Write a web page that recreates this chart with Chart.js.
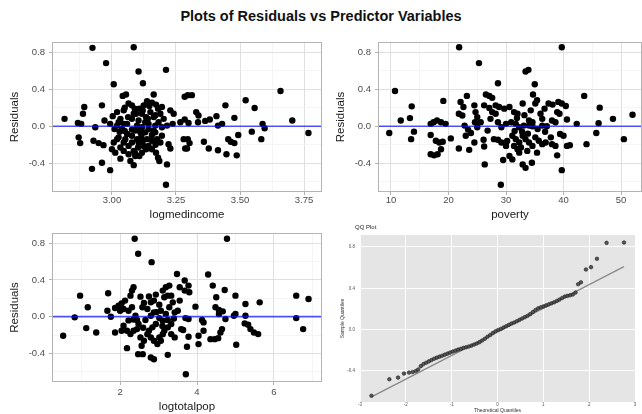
<!DOCTYPE html>
<html><head><meta charset="utf-8">
<script src="https://cdn.jsdelivr.net/npm/chart.js@4/dist/chart.umd.min.js"></script>
<style>
html,body{margin:0;padding:0;background:#fff;width:642px;height:414px;overflow:hidden;font-family:"Liberation Sans",Arial,Helvetica,sans-serif}
canvas{position:absolute;display:block}
#title{position:absolute;left:0;top:8px;width:642px;text-align:center;font-weight:bold;font-size:14.5px;line-height:16px;color:#111}
#qqtitle{position:absolute;left:355px;top:224px;font-size:6px;line-height:7px;color:#222}
</style></head><body>
<div id="title">Plots of Residuals vs Predictor Variables</div>
<canvas id="c1" width="330" height="195" style="left:0;top:30px"></canvas>
<canvas id="c2" width="316" height="195" style="left:326px;top:30px"></canvas>
<canvas id="c3" width="330" height="193" style="left:0;top:221px"></canvas>
<canvas id="c4" width="302" height="192" style="left:340px;top:222px"></canvas>
<div id="qqtitle">QQ Plot</div>
<script>
// ---------- data ----------
const incomeX = [
 2.924,3.085,2.977,3.104,3.211,3.007,3.121,3.163,3.042,3.055,
 2.892,2.961,2.887,2.815,2.867,2.880,2.935,2.971,2.870,2.876,
 2.928,2.948,2.967,2.922,2.961,2.993,3.085,3.033,3.211,3.215,
 3.065,3.078,3.046,3.020,3.003,3.026,3.010,3.039,3.059,3.078,
 3.094,3.107,3.124,3.137,3.146,3.156,3.172,3.180,3.117,3.133,
 3.104,3.150,3.163,3.189,3.098,3.117,3.143,3.169,3.195,3.078,
 3.059,3.026,3.007,3.020,3.046,3.065,3.078,3.098,3.115,3.130,
 3.156,3.176,3.195,3.046,3.065,3.085,3.102,3.117,3.091,3.143,
 3.156,3.172,3.180,3.185,3.228,3.221,3.202,3.215,3.228,3.241,
 3.237,3.267,3.284,3.280,3.286,3.284,3.000,3.013,3.072,3.033,
 3.182,3.089,3.063,3.111,3.137,3.163,3.189,3.052,3.104,3.124,
 3.156,3.078,3.020,3.091,3.143,3.169,2.993,3.046,3.195,3.130,
 3.085,3.107,3.133,3.033,3.296,3.312,3.299,3.329,3.338,3.336,
 3.364,3.382,3.408,3.414,3.430,3.443,3.478,3.522,3.557,3.588,
 3.596,3.546,3.583,3.493,3.454,3.464,3.478,3.359,3.378,3.414,
 3.447,3.487,3.296,3.303,3.293,3.658,3.704,3.767,3.050,3.120,
 3.170,3.100,3.050,3.120,3.170,3.090,3.030,3.140
];
const incomeRes = [
 0.847,0.854,0.682,0.591,0.609,0.453,0.464,0.343,0.328,0.343,
 0.208,0.226,0.135,0.080,0.036,0.026,-0.011,0.062,-0.120,-0.182,
 -0.157,-0.182,-0.204,-0.460,-0.394,-0.474,-0.420,-0.350,-0.631,-0.412,
 0.245,0.226,0.172,0.153,0.109,0.044,-0.029,-0.029,0.026,0.080,
 0.135,0.190,0.226,0.270,0.219,0.255,0.234,0.190,0.135,0.099,
 0.062,0.153,0.099,0.135,0.007,-0.011,0.026,0.007,-0.011,-0.036,
 -0.084,-0.120,-0.175,-0.139,-0.175,-0.212,-0.175,-0.139,-0.102,-0.066,
 -0.095,-0.139,-0.102,-0.266,-0.303,-0.266,-0.230,-0.285,-0.321,-0.212,
 -0.157,-0.285,-0.339,-0.376,-0.241,-0.193,0.080,0.007,0.172,0.135,
 0.026,0.044,0.073,-0.139,-0.241,0.318,-0.248,-0.285,-0.376,0.080,
 0.044,0.190,0.099,-0.066,-0.139,-0.047,-0.175,-0.139,-0.175,-0.212,
 -0.248,-0.102,0.007,-0.047,-0.029,-0.066,0.026,0.026,0.208,0.044,
 0.135,-0.321,-0.248,-0.230,0.336,0.336,0.036,0.153,0.117,0.044,
 0.058,0.073,0.109,0.007,0.026,0.226,0.091,0.281,0.197,0.026,
 -0.022,-0.058,-0.139,-0.095,-0.139,-0.168,-0.182,-0.168,-0.241,-0.259,
 -0.303,-0.314,-0.139,-0.182,-0.241,0.380,0.062,-0.073,0.200,0.170,
 0.120,-0.010,-0.050,-0.160,-0.200,-0.290,-0.060,0.080
];
const povertyX = [
 21.85,25.3,28.6,10.7,9.7,11.7,13.3,13.6,14.0,13.5,
 19.1,16.9,17.4,18.0,18.7,19.5,16.9,17.8,18.4,19.0,
 16.9,17.5,18.1,18.7,20.4,21.8,22.1,22.6,23.2,21.8,
 22.4,22.8,23.4,23.9,23.0,24.5,24.7,25.0,24.6,25.0,
 23.6,24.5,26.1,26.2,26.3,26.5,27.1,27.6,26.2,27.1,
 27.6,28.2,28.8,27.3,28.2,28.6,29.2,30.0,27.9,28.6,
 29.2,29.5,30.0,29.1,29.7,26.8,25.6,39.7,33.4,33.9,
 35.0,34.7,35.4,35.1,32.9,30.6,31.4,32.0,34.3,36.0,
 37.4,38.1,39.1,39.7,40.4,38.9,39.3,40.6,38.0,38.6,
 36.3,34.0,34.6,33.1,34.0,34.6,31.7,32.3,30.9,36.3,
 37.1,42.3,43.6,46.3,46.1,48.6,52.0,45.7,44.0,50.5,
 31.1,31.7,32.3,32.9,33.4,31.4,32.0,32.6,34.0,34.6,
 35.1,35.7,36.3,36.9,38.0,38.6,39.4,40.0,40.6,41.1,
 38.9,32.9,33.4,34.5,39.7,30.6,31.1,32.3,33.7,35.4,
 31.5,32.8,33.8,35.5,36.8,30.2,31.9,33.2,36.7,37.8
];
const povertyRes = [
 0.854,0.682,0.464,0.380,-0.073,0.062,0.088,0.215,-0.058,-0.139,
 0.274,0.026,0.044,0.062,0.044,0.026,-0.095,-0.157,-0.175,-0.168,
 -0.303,-0.314,-0.303,-0.248,-0.131,-0.241,0.263,0.208,0.328,0.135,
 0.117,0.007,-0.036,-0.073,-0.102,0.226,0.153,0.099,0.044,-0.011,
 -0.255,-0.175,-0.146,-0.219,-0.412,0.343,0.328,0.307,0.226,0.197,
 0.153,0.226,0.208,0.080,0.135,0.044,-0.011,0.026,-0.139,-0.146,
 -0.175,-0.365,-0.212,-0.631,0.190,-0.047,0.044,0.854,0.591,0.609,
 0.453,0.343,0.281,0.245,0.245,0.208,0.153,0.135,0.172,0.135,
 0.245,0.234,0.263,0.245,0.219,0.153,0.135,0.073,0.062,0.044,
 0.080,0.062,0.044,0.007,0.007,0.000,0.026,-0.011,0.044,0.007,
 0.000,0.026,0.328,0.201,0.033,0.080,0.124,-0.073,-0.193,-0.139,
 -0.102,-0.139,-0.175,-0.102,-0.139,-0.212,-0.248,-0.230,-0.175,-0.212,
 -0.120,-0.157,-0.193,-0.175,-0.193,-0.212,-0.084,-0.102,-0.212,-0.204,
 -0.314,-0.412,-0.449,-0.394,-0.474,-0.321,-0.358,-0.285,-0.266,-0.285,
 -0.050,-0.060,-0.080,-0.030,-0.060,-0.160,0.090,0.120,0.190,-0.120
];
const popX = [
 0.52,0.82,0.96,1.16,1.12,1.38,1.69,1.87,1.76,1.67,
 2.38,2.47,2.82,3.48,3.68,2.18,2.47,2.59,2.80,2.88,
 3.24,3.71,3.64,2.31,2.35,2.27,2.13,2.04,1.96,1.87,
 2.09,2.22,2.31,2.00,2.53,2.80,2.88,2.71,2.66,2.44,
 2.09,2.18,2.27,2.35,2.44,2.04,2.53,2.62,2.56,2.75,
 2.84,2.93,2.80,2.88,2.97,3.02,3.06,3.11,3.19,3.28,
 3.15,3.24,3.33,3.37,3.28,3.06,3.19,3.02,3.11,3.24,
 3.33,3.42,3.50,3.55,3.68,3.59,3.24,3.15,3.33,3.42,
 2.40,2.80,2.58,3.55,2.88,4.78,4.29,3.78,3.80,4.41,
 4.72,4.50,5.00,5.26,5.63,3.96,4.48,4.57,4.67,3.70,
 3.78,4.13,4.17,4.57,4.74,4.96,5.00,5.26,5.24,5.33,
 5.39,5.48,5.59,4.65,4.61,4.55,4.46,4.35,4.17,4.04,
 3.78,3.74,4.04,5.02,6.58,6.90,6.58,6.76,2.62,2.93,
 3.02,2.48,2.71,3.11,2.22,3.40,2.60,2.95,3.10,2.35,
 2.75
];
const popRes = [
 -0.207,-0.007,0.229,0.102,-0.124,-0.171,0.255,-0.171,0.000,0.065,
 0.847,0.684,0.593,0.465,0.393,-0.342,-0.407,-0.407,-0.444,-0.462,
 -0.415,-0.625,-0.145,0.284,0.320,0.229,0.175,0.145,0.120,0.095,
 0.084,0.065,0.102,0.065,0.218,0.156,0.175,0.084,-0.036,-0.036,
 -0.098,-0.153,-0.189,-0.153,-0.135,-0.153,-0.225,-0.262,-0.316,-0.153,
 -0.116,-0.080,-0.225,-0.262,-0.298,-0.225,-0.262,0.284,0.320,0.338,
 0.211,0.229,0.229,0.156,0.102,0.065,0.029,-0.015,-0.044,-0.036,
 -0.080,0.047,0.065,0.320,0.284,-0.135,-0.116,-0.153,-0.189,-0.225,
 0.011,0.011,0.102,0.175,0.047,0.847,0.458,0.338,0.265,0.338,
 0.291,0.211,0.229,0.138,0.156,0.109,0.102,0.073,0.058,-0.015,
 -0.025,-0.036,-0.062,0.029,-0.025,0.011,0.029,0.011,-0.073,-0.087,
 -0.135,-0.171,-0.189,-0.135,-0.171,-0.233,-0.244,-0.244,-0.153,-0.207,
 -0.218,-0.327,-0.298,-0.305,0.229,0.193,-0.015,-0.135,0.150,0.240,
 0.130,-0.080,-0.190,-0.190,-0.040,-0.020,-0.120,0.050,-0.100,-0.030,
 0.220
];
const qqTheoretical = [
 -2.75,-2.36,-2.17,-2.04,-1.93,-1.85,-1.78,
 -1.731,-1.673,-1.615,-1.556,-1.498,-1.440,-1.382,-1.324,-1.265,-1.207,
 -1.149,-1.091,-1.033,-0.975,-0.916,-0.858,-0.800,-0.742,-0.684,-0.625,
 -0.567,-0.509,-0.451,-0.393,-0.335,-0.276,-0.218,-0.160,-0.102,-0.044,
 0.015,0.073,0.131,0.189,0.247,0.305,0.364,0.422,0.480,0.538,
 0.596,0.655,0.713,0.771,0.829,0.887,0.945,1.004,1.062,1.120,
 1.178,1.236,1.295,1.353,1.411,1.469,1.527,1.585,1.644,1.702,
 1.76,1.82,1.93,2.04,2.17,2.38,2.76
];
const qqSample = [
 -0.640,-0.480,-0.464,-0.425,-0.415,-0.410,-0.400,
 -0.386,-0.353,-0.333,-0.320,-0.307,-0.294,-0.281,-0.271,-0.261,-0.252,
 -0.242,-0.232,-0.222,-0.212,-0.203,-0.193,-0.186,-0.176,-0.170,-0.163,
 -0.154,-0.144,-0.134,-0.121,-0.105,-0.088,-0.069,-0.052,-0.033,-0.016,
 -0.003,0.007,0.020,0.033,0.046,0.059,0.069,0.082,0.095,0.108,
 0.121,0.134,0.150,0.170,0.190,0.206,0.216,0.225,0.235,0.245,
 0.255,0.265,0.278,0.291,0.307,0.320,0.327,0.333,0.340,0.359,
 0.440,0.458,0.582,0.605,0.686,0.840,0.843
];
const qqLineX = [-2.75, 2.76];
const qqLineY = [-0.65, 0.61];

// ---------- axes (tick values / labels) ----------
const residTicks = [-0.6,-0.4,-0.2,0,0.2,0.4,0.6,0.8];
const residMajor = [-0.4,0,0.4,0.8];
const residRange = [-0.71,0.91];
const incomeTicks = [2.875,3,3.125,3.25,3.375,3.5,3.625,3.75];
const incomeMajor = [3,3.25,3.5,3.75];
const incomeRange = [2.766,3.82];
const povertyTicks = [10,15,20,25,30,35,40,45,50];
const povertyMajor = [10,20,30,40,50];
const povertyRange = [7.74,53.65];
const popTicks = [1,2,3,4,5,6,7];
const popMajor = [2,4,6];
const popRange = [0.23,7.25];
const qqXTicks = [-3,-2,-1,0,1,2,3];
const qqYTicks = [-0.4,0,0.4,0.8];
const qqXRange = [-3,3];
const qqYRange = [-0.70,0.916];
const zeroLine = 0;

// ---------- rendering ----------
const FAM = '"Liberation Sans", Arial, Helvetica, sans-serif';
Chart.defaults.font.family = FAM;
Chart.defaults.animation = false;

function isIn(arr, v){ return arr.some(m => Math.abs(m - v) < 1e-9); }
function tv(c){ return c && c.tick ? c.tick.value : NaN; }

const panelPlugin = {
  id: 'panel',
  beforeDraw(chart, args, o) {
    if (!o.background) return;
    const {ctx, chartArea: a} = chart;
    ctx.save(); ctx.fillStyle = o.background;
    ctx.fillRect(a.left, a.top, a.right - a.left, a.bottom - a.top);
    ctx.restore();
  },
  afterDatasetsDraw(chart, args, o) {
    const {ctx, chartArea: a, scales} = chart;
    ctx.save();
    if (o.refLine !== undefined && o.refLine !== null) {
      const y = scales.y.getPixelForValue(o.refLine);
      ctx.strokeStyle = 'rgba(20,20,255,0.72)';
      ctx.lineWidth = 1.7;
      ctx.beginPath(); ctx.moveTo(a.left, y); ctx.lineTo(a.right, y); ctx.stroke();
    }
    if (o.border) {
      ctx.strokeStyle = o.border; ctx.lineWidth = 1;
      ctx.strokeRect(a.left + 0.5, a.top + 0.5, a.right - a.left - 1, a.bottom - a.top - 1);
    }
    ctx.restore();
  }
};

function ggAxis(ticks, majors, range, fmt, title, isY, cfg) {
  return {
    type: 'linear', position: isY ? 'left' : 'bottom',
    min: range[0], max: range[1],
    afterBuildTicks: s => { s.ticks = ticks.map(v => ({value: v})); },
    afterFit: s => { if (isY) s.width = cfg.size; else s.height = cfg.size; },
    grid: {
      color: c => isIn(majors, tv(c)) ? '#e0e0e0' : '#f1f1f1',
      lineWidth: c => isIn(majors, tv(c)) ? 1 : 0.7,
      tickColor: c => isIn(majors, tv(c)) ? '#b3b3b3' : 'rgba(0,0,0,0)',
      tickLength: 3, drawTicks: true
    },
    border: {display: false},
    ticks: {
      autoSkip: false, maxRotation: 0, minRotation: 0,
      padding: cfg.tickPad, color: '#4d4d4d',
      font: {size: 9.5, family: FAM},
      callback: v => isIn(majors, v) ? fmt(v) : ''
    },
    title: {
      display: true, text: title, color: '#1a1a1a',
      font: {size: 11.5, family: FAM},
      padding: cfg.titlePad
    }
  };
}

function ggScatter(id, xs, ys, xTicks, xMajor, xRange, xFmt, xTitle, pad, xCfg) {
  const pts = xs.map((x, i) => ({x: x, y: ys[i]}));
  new Chart(document.getElementById(id), {
    type: 'scatter',
    data: {datasets: [{
      data: pts, pointRadius: 3.2, pointHoverRadius: 3.2,
      backgroundColor: '#000', borderColor: '#000', borderWidth: 0
    }]},
    options: {
      responsive: false, devicePixelRatio: 1, animation: false,
      layout: {padding: pad, autoPadding: false},
      plugins: {legend: {display: false}, tooltip: {enabled: false},
                panel: {refLine: zeroLine, border: '#b3b3b3'}},
      scales: {
        x: ggAxis(xTicks, xMajor, xRange, xFmt, xTitle, false, xCfg),
        y: ggAxis(residTicks, residMajor, residRange, v => v.toFixed(1), 'Residuals', true,
                  {size: 52, tickPad: 4, titlePad: {top: 7.8, bottom: 0}})
      }
    },
    plugins: [panelPlugin]
  });
}

ggScatter('c1', incomeX, incomeRes, incomeTicks, incomeMajor, incomeRange,
  v => v.toFixed(2), 'logmedincome', {top: 12, right: 8, left: 0, bottom: 0},
  {size: 33, tickPad: 0, titlePad: {top: 0, bottom: 3}});
ggScatter('c2', povertyX, povertyRes, povertyTicks, povertyMajor, povertyRange,
  v => String(v), 'poverty', {top: 12, right: 0, left: 0, bottom: 0},
  {size: 33, tickPad: 0, titlePad: {top: 0, bottom: 3}});
ggScatter('c3', popX, popRes, popTicks, popMajor, popRange,
  v => String(v), 'logtotalpop', {top: 12, right: 8, left: 0, bottom: 0},
  {size: 32, tickPad: 2, titlePad: {top: 0, bottom: 0}});

// QQ plot
(function(){
  const pts = qqTheoretical.map((x, i) => ({x: x, y: qqSample[i]}));
  const line = qqLineX.map((x, i) => ({x: x, y: qqLineY[i]}));
  const small = {size: 4.5, family: FAM};
  new Chart(document.getElementById('c4'), {
    type: 'scatter',
    data: {datasets: [
      {data: pts, order: 0, pointRadius: 1.8, pointHoverRadius: 1.8,
       backgroundColor: 'rgba(70,70,70,0.9)', borderColor: '#1e1e1e', borderWidth: 0.6},
      {type: 'line', data: line, order: 1, showLine: true, pointRadius: 0,
       borderColor: '#8a8a8a', borderWidth: 1.3, fill: false}
    ]},
    options: {
      responsive: false, devicePixelRatio: 1, animation: false,
      layout: {padding: {top: 13, right: 7, left: 0, bottom: 0}, autoPadding: false},
      plugins: {legend: {display: false}, tooltip: {enabled: false},
                panel: {background: '#e5e5e5'}},
      scales: {
        x: {type: 'linear', min: qqXRange[0], max: qqXRange[1],
            afterBuildTicks: s => { s.ticks = qqXTicks.map(v => ({value: v})); },
            afterFit: s => { s.height = 12; },
            grid: {color: '#ffffff', lineWidth: 0.9, drawTicks: false},
            border: {display: false},
            ticks: {autoSkip: false, maxRotation: 0, padding: 0.5, color: '#555', font: small,
                    callback: v => String(v)},
            title: {display: true, text: 'Theoretical Quantiles', color: '#333',
                    font: {size: 5, family: FAM}, padding: {top: 0, bottom: 0}}},
        y: {type: 'linear', min: qqYRange[0], max: qqYRange[1],
            afterBuildTicks: s => { s.ticks = qqYTicks.map(v => ({value: v})); },
            afterFit: s => { s.width = 20; },
            grid: {color: '#ffffff', lineWidth: 0.9, drawTicks: false},
            border: {display: false},
            ticks: {autoSkip: false, padding: 5, color: '#555', font: small,
                    callback: v => v.toFixed(1)},
            title: {display: true, text: 'Sample Quantiles', color: '#333',
                    font: {size: 5, family: FAM}, padding: {top: 0, bottom: 0}}}
      }
    },
    plugins: [panelPlugin]
  });
})();
</script>
</body></html>
